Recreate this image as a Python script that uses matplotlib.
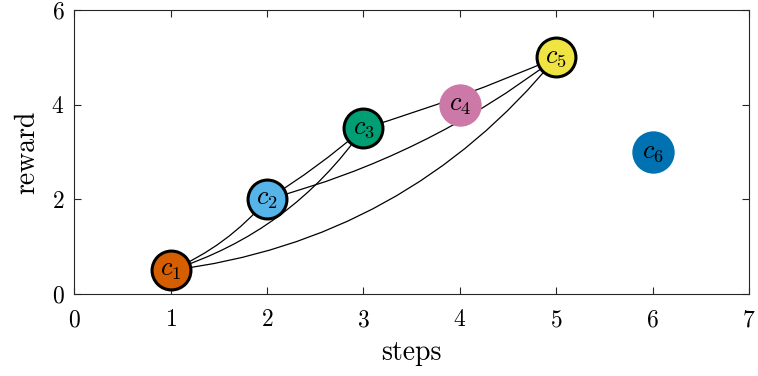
import matplotlib
matplotlib.use("Agg")
import matplotlib.pyplot as plt
from matplotlib.patches import FancyArrowPatch

plt.rcParams['font.family'] = 'serif'
plt.rcParams['font.serif'] = ['cmr10']
plt.rcParams['mathtext.fontset'] = 'cm'
plt.rcParams['axes.formatter.use_mathtext'] = True

# node data
names = ['c_1', 'c_2', 'c_3', 'c_4', 'c_5', 'c_6']
steps = [1, 2, 3, 4, 5, 6]
reward = [0.5, 2.0, 3.5, 4.0, 5.0, 3.0]
colors = ['#D55E00', '#56B4E9', '#009E73', '#CC79A7', '#F0E442', '#0072B2']
on_path = [True, True, True, False, True, False]

# edges (node index pairs) and their bend
edges = [(0, 1), (0, 2), (0, 4), (1, 2), (1, 4), (2, 4)]
bends = [0.12, 0.17, 0.2, 0.04, 0.1, 0.03]

fig = plt.figure(figsize=(7.58, 3.76), dpi=100)
ax = fig.add_axes([0.098, 0.218, 0.89, 0.755])

for (a, b), rad in zip(edges, bends):
    arc = FancyArrowPatch((steps[a], reward[a]), (steps[b], reward[b]),
                          connectionstyle=f"arc3,rad={rad}",
                          arrowstyle='-', color='black', lw=0.9,
                          shrinkA=0, shrinkB=0, zorder=2)
    ax.add_patch(arc)

for i in range(len(names)):
    if on_path[i]:
        ax.plot(steps[i], reward[i], 'o', ms=28, mfc=colors[i],
                mec='black', mew=2.2, zorder=3)
    else:
        ax.plot(steps[i], reward[i], 'o', ms=30.5, mfc=colors[i],
                mec='none', zorder=3)
    ax.text(steps[i], reward[i], f"${names[i]}$", ha='center', va='center',
            fontsize=19, zorder=4)

ax.set_xlim(0, 7)
ax.set_ylim(0, 6)
ax.set_xticks(range(0, 8))
ax.set_yticks([0, 2, 4, 6])
ax.tick_params(direction='in', top=True, right=True, labelsize=17,
               length=5, width=0.8, color='#262626')
ax.tick_params(axis='x', pad=11)
ax.tick_params(axis='y', pad=7)
for s in ax.spines.values():
    s.set_linewidth(0.8)
    s.set_color('#262626')

ax.set_xlabel('steps', fontsize=20, labelpad=6)
ax.set_ylabel('reward', fontsize=20, labelpad=8)

fig.savefig('out.png', dpi=100)
